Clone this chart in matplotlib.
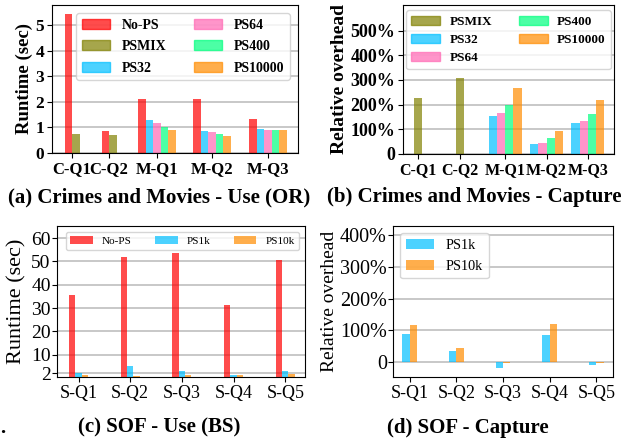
import matplotlib.pyplot as plt
import numpy as np
from matplotlib.patches import Patch

plt.rcParams['font.family'] = 'Liberation Serif'

# (a) Crimes and Movies - Use (OR): runtime in seconds
cm_queries = ['C-Q1', 'C-Q2', 'M-Q1', 'M-Q2', 'M-Q3']
use_nops = [5.45, 0.87, 2.13, 2.13, 1.34]
use_psmix = [0.76, 0.69, None, None, None]
use_ps32 = [None, None, 1.30, 0.87, 0.95]
use_ps64 = [None, None, 1.19, 0.81, 0.91]
use_ps400 = [None, None, 1.03, 0.76, 0.91]
use_ps10000 = [None, None, 0.91, 0.68, 0.91]

# (b) Crimes and Movies - Capture: relative overhead in %
cap_psmix = [227, 308, None, None, None]
cap_ps32 = [None, None, 154, 41, 126]
cap_ps64 = [None, None, 166, 45, 134]
cap_ps400 = [None, None, 199, 65, 162]
cap_ps10000 = [None, None, 268, 93, 219]

# (c) SOF - Use (BS): runtime in seconds
sof_queries = ['S-Q1', 'S-Q2', 'S-Q3', 'S-Q4', 'S-Q5']
sof_nops = [35.8, 52.1, 53.4, 31.1, 50.6]
sof_ps1k = [2.0, 5.3, 3.1, 1.1, 3.1]
sof_ps10k = [1.2, 0.7, 1.1, 1.1, 1.5]

# (d) SOF - Capture: relative overhead in %
sofcap_ps1k = [90, 34, -17, 87, -10]
sofcap_ps10k = [116, 46, -4, 122, -3]

C_NOPS, C_MIX, C_32 = 'red', 'olive', 'deepskyblue'
C_64, C_400, C_10K = 'hotpink', 'springgreen', 'darkorange'
ALPHA = 0.7

W, H = 634, 440
fig = plt.figure(figsize=(W / 100, H / 100), dpi=100)


def px_axes(l, t, r, b):
    return fig.add_axes([l / W, 1 - b / H, (r - l) / W, (b - t) / H])


def grouped(ax, centers, series, width=1.0):
    # bars of one group sit side by side, centred on the group position
    for i, c in enumerate(centers):
        present = [s for s in series if s[1][i] is not None]
        n = len(present)
        for k, (name, vals, color) in enumerate(present):
            ax.bar(c + (k - (n - 1) / 2) * width, vals[i], width,
                   color=color, alpha=ALPHA)


def pct(v, pos):
    return '0' if v == 0 else '%d%%' % v


def style(ax):
    ax.set_axisbelow(True)
    ax.yaxis.grid(True, color='#c4c4c4', linewidth=1.3)


# ---- (a)
ax = px_axes(52, 5, 298, 153)
series_a = [('No-PS', use_nops, C_NOPS), ('PSMIX', use_psmix, C_MIX),
            ('PS32', use_ps32, C_32), ('PS64', use_ps64, C_64),
            ('PS400', use_ps400, C_400), ('PS10000', use_ps10000, C_10K)]
centers_a = [2.67, 7.6, 14.0, 21.3, 28.8]
grouped(ax, centers_a, series_a)
ax.set_xlim(0, 32.8)
ax.set_ylim(0, 5.79)
ax.set_yticks([0, 1, 2, 3, 4, 5])
ax.set_xticks(centers_a, cm_queries)
ax.tick_params(axis='x', labelsize=12, pad=2)
ax.tick_params(axis='y', labelsize=12.5, pad=2)
for t in ax.get_xticklabels() + ax.get_yticklabels():
    t.set_fontweight('bold')
ax.set_ylabel('Runtime (sec)', fontsize=13.5, fontweight='bold', labelpad=2)
style(ax)
ax.legend([Patch(color=c, alpha=ALPHA) for _, _, c in series_a],
          [n for n, _, _ in series_a], loc='upper right', ncol=2,
          prop={'weight': 'bold', 'size': 10}, columnspacing=2.0,
          labelspacing=0.6, handletextpad=0.85, borderaxespad=0.6)

# ---- (b)
ax = px_axes(403, 5, 614, 154)
series_b = [('PSMIX', cap_psmix, C_MIX), ('PS32', cap_ps32, C_32),
            ('PS64', cap_ps64, C_64), ('PS400', cap_ps400, C_400),
            ('PS10000', cap_ps10000, C_10K)]
centers_b = [1.88, 6.98, 12.49, 17.55, 22.6]
grouped(ax, centers_b, series_b)
ax.set_xlim(0, 25.8)
ax.set_ylim(0, 604)
ax.set_yticks([0, 100, 200, 300, 400, 500])
ax.yaxis.set_major_formatter(plt.FuncFormatter(pct))
ax.set_xticks(centers_b, cm_queries)
ax.tick_params(axis='x', labelsize=11.5, pad=2)
ax.tick_params(axis='y', labelsize=13, pad=2)
for t in ax.get_xticklabels() + ax.get_yticklabels():
    t.set_fontweight('bold')
ax.set_ylabel('Relative overhead', fontsize=14, fontweight='bold', labelpad=2)
style(ax)
ax.legend([Patch(color=c, alpha=ALPHA) for _, _, c in series_b],
          [n for n, _, _ in series_b], loc='upper center', ncol=2,
          prop={'weight': 'bold', 'size': 9.5}, columnspacing=2.0,
          labelspacing=0.45, handlelength=2.2, handletextpad=0.7,
          borderaxespad=0.4)

# ---- (c)
ax = px_axes(57, 226, 305, 377)
x = np.arange(len(sof_queries))
wc = 0.123
series_c = [('No-PS', sof_nops, C_NOPS), ('PS1k', sof_ps1k, C_32),
            ('PS10k', sof_ps10k, C_10K)]
for k, (name, vals, color) in enumerate(series_c):
    ax.bar(x + (k - 1) * wc, vals, wc, color=color, alpha=ALPHA, label=name)
ax.set_xlim(-0.416, 4.381)
ax.set_ylim(0.4, 65.2)
ax.set_yticks([2, 10, 20, 30, 40, 50, 60])
ax.set_xticks(x, sof_queries)
ax.tick_params(axis='x', labelsize=13, pad=2)
ax.tick_params(axis='y', labelsize=14, pad=1)
ax.set_ylabel('Runtime (sec)', fontsize=16, labelpad=3)
style(ax)
ax.legend(loc='upper right', ncol=3, fontsize=8, columnspacing=2.1,
          handletextpad=0.85)

# ---- (d)
ax = px_axes(393, 226, 613, 377)
wd = 0.158
series_d = [('PS1k', sofcap_ps1k, C_32), ('PS10k', sofcap_ps10k, C_10K)]
for k, (name, vals, color) in enumerate(series_d):
    ax.bar(x + (k - 0.5) * wd, vals, wd, color=color, alpha=ALPHA, label=name)
ax.set_xlim(-0.358, 4.358)
ax.set_ylim(-47, 430)
ax.set_yticks([0, 100, 200, 300, 400])
ax.yaxis.set_major_formatter(plt.FuncFormatter(pct))
ax.set_xticks(x, sof_queries)
ax.tick_params(axis='x', labelsize=13, pad=2)
ax.tick_params(axis='y', labelsize=14.5, pad=1)
ax.set_ylabel('Relative overhead', fontsize=14, labelpad=1)
style(ax)
ax.legend(loc='upper left', fontsize=10.3, labelspacing=0.55)

# captions
cap = dict(fontsize=15, fontweight='bold', ha='center', va='center')
fig.text(159.5 / W, 1 - 197 / H, '(a) Crimes and Movies - Use (OR)', **cap)
fig.text(474 / W, 1 - 197 / H, '(b) Crimes and Movies - Capture', **cap)
fig.text(159.5 / W, 1 - 427 / H, '(c) SOF - Use (BS)', **cap)
fig.text(468 / W, 1 - 428 / H, '(d) SOF - Capture', **cap)
fig.text(0 / W, 1 - 433 / H, '.', fontsize=15, fontweight='bold',
         ha='left', va='baseline')

fig.savefig('out.png', dpi=100)
